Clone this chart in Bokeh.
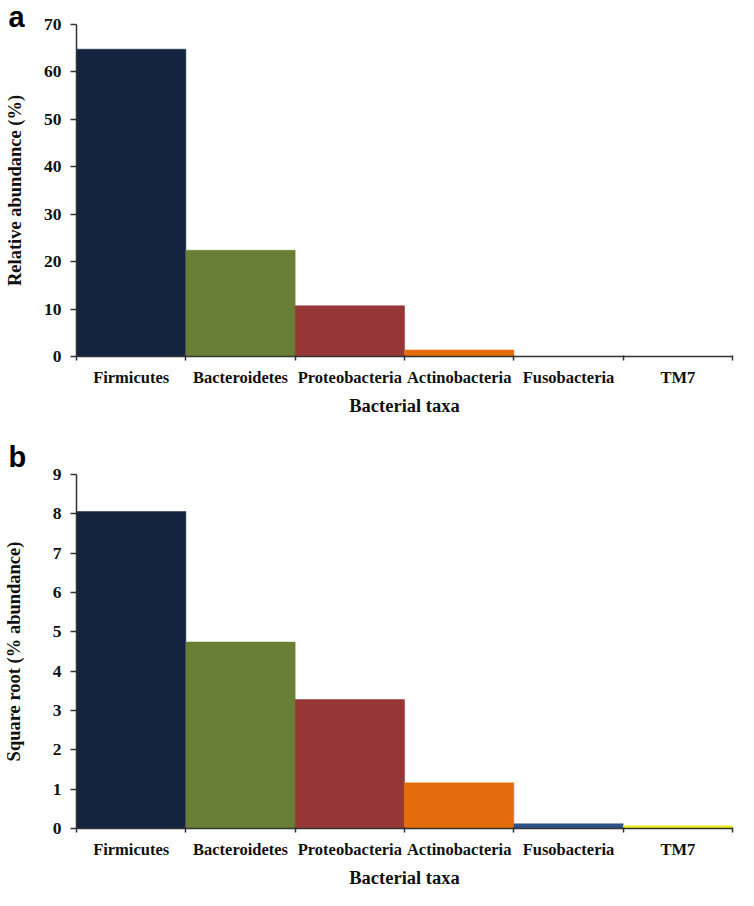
from bokeh.plotting import figure
from bokeh.layouts import column
from bokeh.models import FixedTicker, Range1d, ColumnDataSource, Title
from bokeh.embed import file_html
from bokeh.resources import INLINE

taxa = ["Firmicutes", "Bacteroidetes", "Proteobacteria", "Actinobacteria", "Fusobacteria", "TM7"]
rel_abundance = [64.8, 22.4, 10.7, 1.37, 0.015, 0.005]
sqrt_abundance = [8.06, 4.74, 3.28, 1.16, 0.12, 0.07]
colors = ["#142440", "#687f35", "#953735", "#e46c0a", "#2d5289", "#f0ec22"]
yticks_a = [0, 10, 20, 30, 40, 50, 60, 70]
yticks_b = [0, 1, 2, 3, 4, 5, 6, 7, 8, 9]

SERIF = "Liberation Serif"


def make_panel(values, yticks, ytitle, letter, height, top, bottom,
               title_valign, title_standoff, ylabel_standoff):
    n = len(taxa)
    centers = [i + 0.5 for i in range(n)]
    p = figure(width=738, height=height, output_backend="svg", toolbar_location=None,
               x_range=Range1d(0, n), y_range=Range1d(yticks[0], yticks[-1]),
               min_border_left=69, min_border_right=6, min_border_top=top,
               min_border_bottom=bottom)
    p.title = Title(text=letter, align="left", offset=-68, vertical_align=title_valign,
                    standoff=title_standoff, text_font="Liberation Sans",
                    text_font_style="bold", text_font_size="29px", text_color="#000000")
    p.outline_line_color = None
    p.xgrid.visible = False
    p.ygrid.visible = False
    src = ColumnDataSource(dict(x=centers, top=values, color=colors, taxon=taxa))
    p.vbar(x="x", top="top", bottom=0, width=1.0, color="color", line_color="color",
           line_width=0.5, source=src)

    xax = p.xaxis[0]
    xax.ticker = FixedTicker(ticks=centers, minor_ticks=list(range(n + 1)))
    xax.major_label_overrides = {c: t for c, t in zip(centers, taxa)}
    xax.major_tick_out = 0
    xax.major_tick_in = 0
    xax.minor_tick_out = 4
    xax.minor_tick_in = 1
    xax.minor_tick_line_color = "#333333"
    xax.minor_tick_line_width = 1.5
    xax.axis_line_color = "#333333"
    xax.axis_line_width = 1.5
    xax.major_label_text_font = SERIF
    xax.major_label_text_font_style = "bold"
    xax.major_label_text_font_size = "16.5px"
    xax.major_label_text_color = "#111111"
    xax.major_label_standoff = 7
    xax.axis_label = "Bacterial taxa"
    xax.axis_label_text_font = SERIF
    xax.axis_label_text_font_style = "bold"
    xax.axis_label_text_font_size = "18.5px"
    xax.axis_label_text_color = "#111111"
    xax.axis_label_standoff = 6

    yax = p.yaxis[0]
    yax.ticker = FixedTicker(ticks=yticks)
    yax.minor_tick_line_color = None
    yax.major_tick_out = 6
    yax.major_tick_in = 0
    yax.major_tick_line_color = "#333333"
    yax.major_tick_line_width = 1.5
    yax.axis_line_color = "#333333"
    yax.axis_line_width = 1.5
    yax.major_label_text_font = SERIF
    yax.major_label_text_font_style = "bold"
    yax.major_label_text_font_size = "17.5px"
    yax.major_label_text_color = "#111111"
    yax.major_label_standoff = 9
    yax.axis_label = ytitle
    yax.axis_label_text_font = SERIF
    yax.axis_label_text_font_style = "bold"
    yax.axis_label_text_font_size = "18.5px"
    yax.axis_label_text_color = "#111111"
    yax.axis_label_standoff = ylabel_standoff
    return p


pa = make_panel(rel_abundance, yticks_a, "Relative abundance (%)", "a",
                432, 24, 76, "top", -21, 16)
pb = make_panel(sqrt_abundance, yticks_b, "Square root (% abundance)", "b",
                458, 42, 59, "bottom", 3, 26)

layout = column(pa, pb, spacing=0)
open("out.html", "w").write(file_html(layout, INLINE))
